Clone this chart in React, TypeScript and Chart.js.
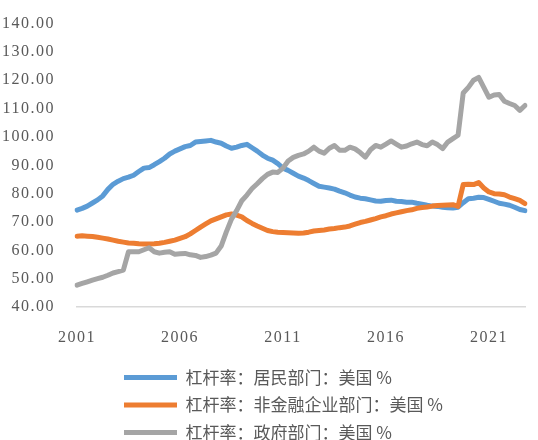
import { useEffect, useRef } from 'react';
import { Chart, registerables } from 'chart.js';

Chart.register(...registerables);

// ---- data ----
const startYear = 2001;
const endYear = 2022;
const quarters: string[] = [];
for (let y = startYear; y <= endYear; y++) {
  for (let q = 1; q <= 4; q++) quarters.push(`${y}Q${q}`);
}
const xTickYears = ['2001', '2006', '2011', '2016', '2021'];
const yMin = 40;
const yMax = 140;
const yStep = 10;

const householdLabel = '杠杆率：居民部门：美国 %';
const corporateLabel = '杠杆率：非金融企业部门：美国 %';
const governmentLabel = '杠杆率：政府部门：美国 %';

const household = [
  74.2, 74.8, 75.6, 76.7, 77.8, 79.2, 81.5, 83.3, 84.4, 85.3, 85.8, 86.5,
  87.8, 89.0, 89.2, 90.2, 91.3, 92.5, 94.0, 95.0, 95.8, 96.6, 97.0, 98.2,
  98.4, 98.6, 98.8, 98.2, 97.8, 96.8, 96.0, 96.4, 97.0, 97.4, 96.2, 95.0,
  93.6, 92.5, 91.8, 90.6, 89.0, 88.2, 87.2, 86.2, 85.5, 84.6, 83.6, 82.6,
  82.3, 82.0, 81.6, 80.9, 80.3, 79.5, 78.8, 78.4, 78.2, 77.8, 77.4, 77.3,
  77.6, 77.7, 77.3, 77.2, 77.0, 77.0, 76.6, 76.3, 75.9, 75.6, 75.5, 75.2,
  75.0, 74.9, 75.2, 76.8, 78.2, 78.4, 78.7, 78.6, 78.0, 77.3, 76.6, 76.3,
  75.9, 75.2, 74.4, 74.0,
];

const corporate = [
  65.0, 65.1, 65.0, 64.9, 64.6, 64.3, 64.0, 63.6, 63.2, 62.9, 62.6, 62.5,
  62.3, 62.2, 62.2, 62.3, 62.5, 62.8, 63.2, 63.6, 64.2, 64.8, 65.8, 67.0,
  68.2, 69.3, 70.4, 71.1, 71.8, 72.5, 72.8, 72.4, 71.8, 70.5, 69.5, 68.6,
  67.8, 67.0, 66.6, 66.4, 66.3, 66.2, 66.1, 66.0, 66.1, 66.4, 66.8, 67.0,
  67.2, 67.5, 67.7, 68.0, 68.2, 68.6, 69.2, 69.8, 70.2, 70.7, 71.2, 71.8,
  72.2, 72.8, 73.2, 73.6, 74.0, 74.3, 74.8, 75.1, 75.3, 75.6, 75.8, 75.9,
  76.0, 76.1, 75.5, 83.2, 83.3, 83.2, 83.9, 82.0, 80.6, 80.0, 79.9, 79.6,
  78.8, 78.2, 77.6, 76.5,
];

const government = [
  47.7, 48.3, 48.9, 49.5, 50.0, 50.5, 51.2, 52.0, 52.5, 53.0, 59.5, 59.5,
  59.5, 60.2, 60.9, 59.5, 59.0, 59.3, 59.5, 58.6, 58.8, 58.9, 58.4, 58.2,
  57.5, 57.8, 58.3, 59.0, 61.5, 66.5, 71.0, 74.0, 77.5, 79.5, 81.8, 83.5,
  85.3, 86.8, 87.6, 87.5, 89.0, 91.5, 92.8, 93.5, 94.0, 95.0, 96.4, 95.0,
  94.3, 96.0, 97.0, 95.3, 95.3, 96.4, 95.8, 94.5, 92.9, 95.5, 97.0, 96.4,
  97.5, 98.6, 97.5, 96.4, 96.8, 97.6, 98.2, 97.3, 96.9, 98.2, 97.3, 95.9,
  98.2, 99.4, 100.6, 115.5, 117.5, 120.0, 121.0, 117.5, 114.0, 114.8, 115.0, 112.6,
  111.8, 111.1, 109.4, 111.1,
];

const textColor = '#595959';
const tickFont = { family: '"Liberation Serif", "Times New Roman", serif', size: 16 };

// move the legend block to the right (left-aligned rows at a fixed x)
const legendShift = {
  id: 'legendShift',
  afterUpdate(chart: any) {
    if (chart.legend) chart.legend.left = 113.5;
  },
};

// wider letter spacing for the axis tick labels (drawn after datasets, z = 1)
const tickSpacing = {
  id: 'tickSpacing',
  beforeDraw(chart: any) {
    chart.ctx.letterSpacing = '0px';
  },
  afterDatasetsDraw(chart: any) {
    chart.ctx.letterSpacing = '1.5px';
  },
  afterDraw(chart: any) {
    chart.ctx.letterSpacing = '0px';
  },
};

export default function App() {
  const ref = useRef<HTMLCanvasElement>(null);

  useEffect(() => {
    const canvas = ref.current;
    if (!canvas) return;
    const lineCommon = {
      pointRadius: 0,
      pointHoverRadius: 0,
      borderWidth: 5,
      tension: 0,
      borderCapStyle: 'round' as const,
      borderJoinStyle: 'round' as const,
      fill: false,
    };
    const chart = new Chart(canvas, {
      type: 'line',
      data: {
        labels: quarters,
        datasets: [
          { label: householdLabel, data: household, borderColor: '#5B9BD5', backgroundColor: '#5B9BD5', order: 3, ...lineCommon },
          { label: corporateLabel, data: corporate, borderColor: '#ED7D31', backgroundColor: '#ED7D31', order: 2, ...lineCommon },
          { label: governmentLabel, data: government, borderColor: '#A5A5A5', backgroundColor: '#A5A5A5', order: 1, ...lineCommon },
        ],
      },
      options: {
        responsive: false,
        animation: false,
        devicePixelRatio: 1,
        events: [],
        layout: { padding: { top: 23, left: 0, right: 0, bottom: 0 } },
        plugins: {
          legend: {
            position: 'bottom',
            align: 'start',
            labels: {
              usePointStyle: true,
              pointStyle: 'line',
              pointStyleWidth: 53,
              padding: 10.5,
              color: textColor,
              font: { family: '"Noto Sans CJK SC", sans-serif', size: 17 },
              sort: (a: any, b: any) => a.datasetIndex - b.datasetIndex,
            },
          },
          tooltip: { enabled: false },
          title: { display: false },
        },
        scales: {
          x: {
            type: 'category',
            grid: { display: false },
            border: { display: true, color: '#D9D9D9', width: 1.5 },
            ticks: {
              autoSkip: false,
              maxRotation: 0,
              minRotation: 0,
              padding: 13,
              z: 1,
              color: textColor,
              font: tickFont,
              callback: (_v: any, index: number) => {
                const lab = quarters[index];
                const yr = lab.slice(0, 4);
                return lab.endsWith('Q1') && xTickYears.includes(yr) ? yr : '';
              },
            },
            afterFit: (s: any) => {
              s.height = 51.5;
            },
          },
          y: {
            min: yMin,
            max: yMax,
            grid: { display: false },
            border: { display: false },
            ticks: {
              stepSize: yStep,
              padding: 14,
              z: 1,
              color: textColor,
              font: tickFont,
              callback: (v: any) => Number(v).toFixed(2),
            },
            afterFit: (s: any) => {
              s.width = 77;
            },
          },
        },
      },
      plugins: [legendShift, tickSpacing],
    });
    return () => chart.destroy();
  }, []);

  return (
    <div style={{ position: 'absolute', left: 0, top: 0, width: 538, height: 440, overflow: 'hidden', background: '#fff' }}>
      <canvas ref={ref} width={538} height={451} style={{ display: 'block' }} />
    </div>
  );
}
